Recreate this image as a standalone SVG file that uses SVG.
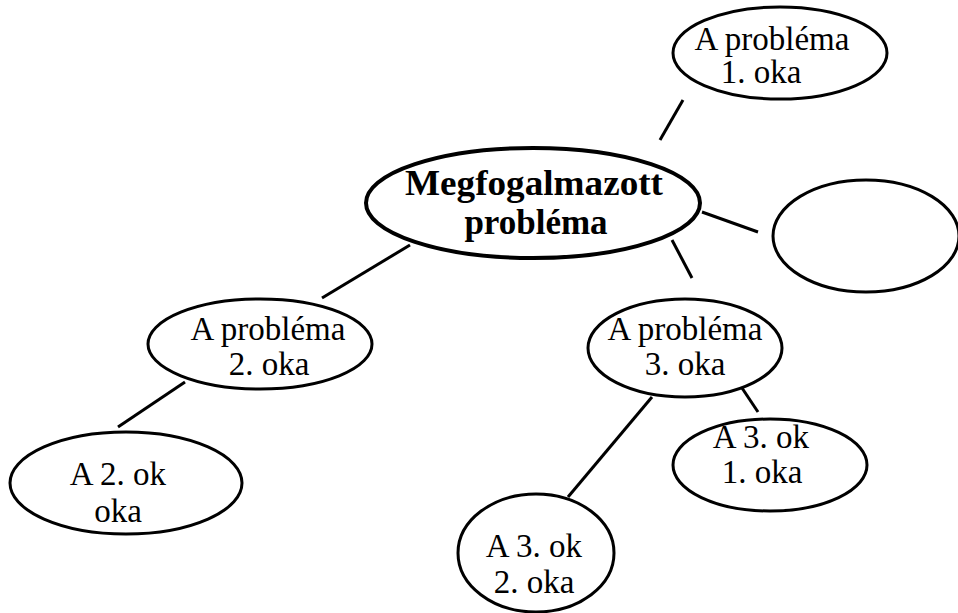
<svg xmlns="http://www.w3.org/2000/svg" width="958" height="613" viewBox="0 0 958 613">
<style>
.n{fill:#fff;stroke:#000;stroke-width:3}
.m{fill:#fff;stroke:#000;stroke-width:4}
.t{font-family:"Liberation Serif","Times New Roman",serif;font-size:33px;fill:#000;text-anchor:middle}
.b{font-weight:bold;font-size:35px}
.c line{stroke:#000;stroke-width:3}
</style>
<rect width="958" height="613" fill="#fff"/>
<g id="connectors" class="c">
<line x1="683" y1="100" x2="660" y2="140"/>
<line x1="702" y1="212" x2="758" y2="232"/>
<line x1="322" y1="298" x2="410" y2="245"/>
<line x1="672" y1="240" x2="692" y2="278"/>
<line x1="185" y1="382" x2="118" y2="427"/>
<line x1="742" y1="388" x2="758" y2="412"/>
<line x1="652" y1="397" x2="568" y2="497"/>
</g>
<g id="central">
<ellipse class="m" cx="533" cy="203" rx="167" ry="55"/>
<text class="t b" x="534" y="195" textLength="258" lengthAdjust="spacingAndGlyphs">Megfogalmazott</text>
<text class="t b" x="536" y="234">probléma</text>
</g>
<g id="cause1">
<ellipse class="n" cx="780" cy="53" rx="107" ry="46"/>
<text class="t" x="772" y="50">A probléma</text>
<text class="t" x="761" y="83">1. oka</text>
</g>
<g id="empty">
<ellipse class="n" cx="866" cy="236" rx="93" ry="56"/>
</g>
<g id="cause2">
<ellipse class="n" cx="260" cy="344" rx="112" ry="45"/>
<text class="t" x="268" y="340">A probléma</text>
<text class="t" x="269" y="375">2. oka</text>
</g>
<g id="cause2-1">
<ellipse class="n" cx="126" cy="483" rx="116" ry="51"/>
<text class="t" x="118" y="485">A 2. ok</text>
<text class="t" x="118" y="522">oka</text>
</g>
<g id="cause3">
<ellipse class="n" cx="685" cy="348" rx="97" ry="49"/>
<text class="t" x="685" y="340">A probléma</text>
<text class="t" x="685" y="375">3. oka</text>
</g>
<g id="cause3-1">
<ellipse class="n" cx="770" cy="465" rx="97" ry="46"/>
<text class="t" x="761" y="448">A 3. ok</text>
<text class="t" x="762" y="483">1. oka</text>
</g>
<g id="cause3-2">
<ellipse class="n" cx="536" cy="553" rx="78" ry="59"/>
<text class="t" x="534" y="557">A 3. ok</text>
<text class="t" x="534" y="593">2. oka</text>
</g>
</svg>
